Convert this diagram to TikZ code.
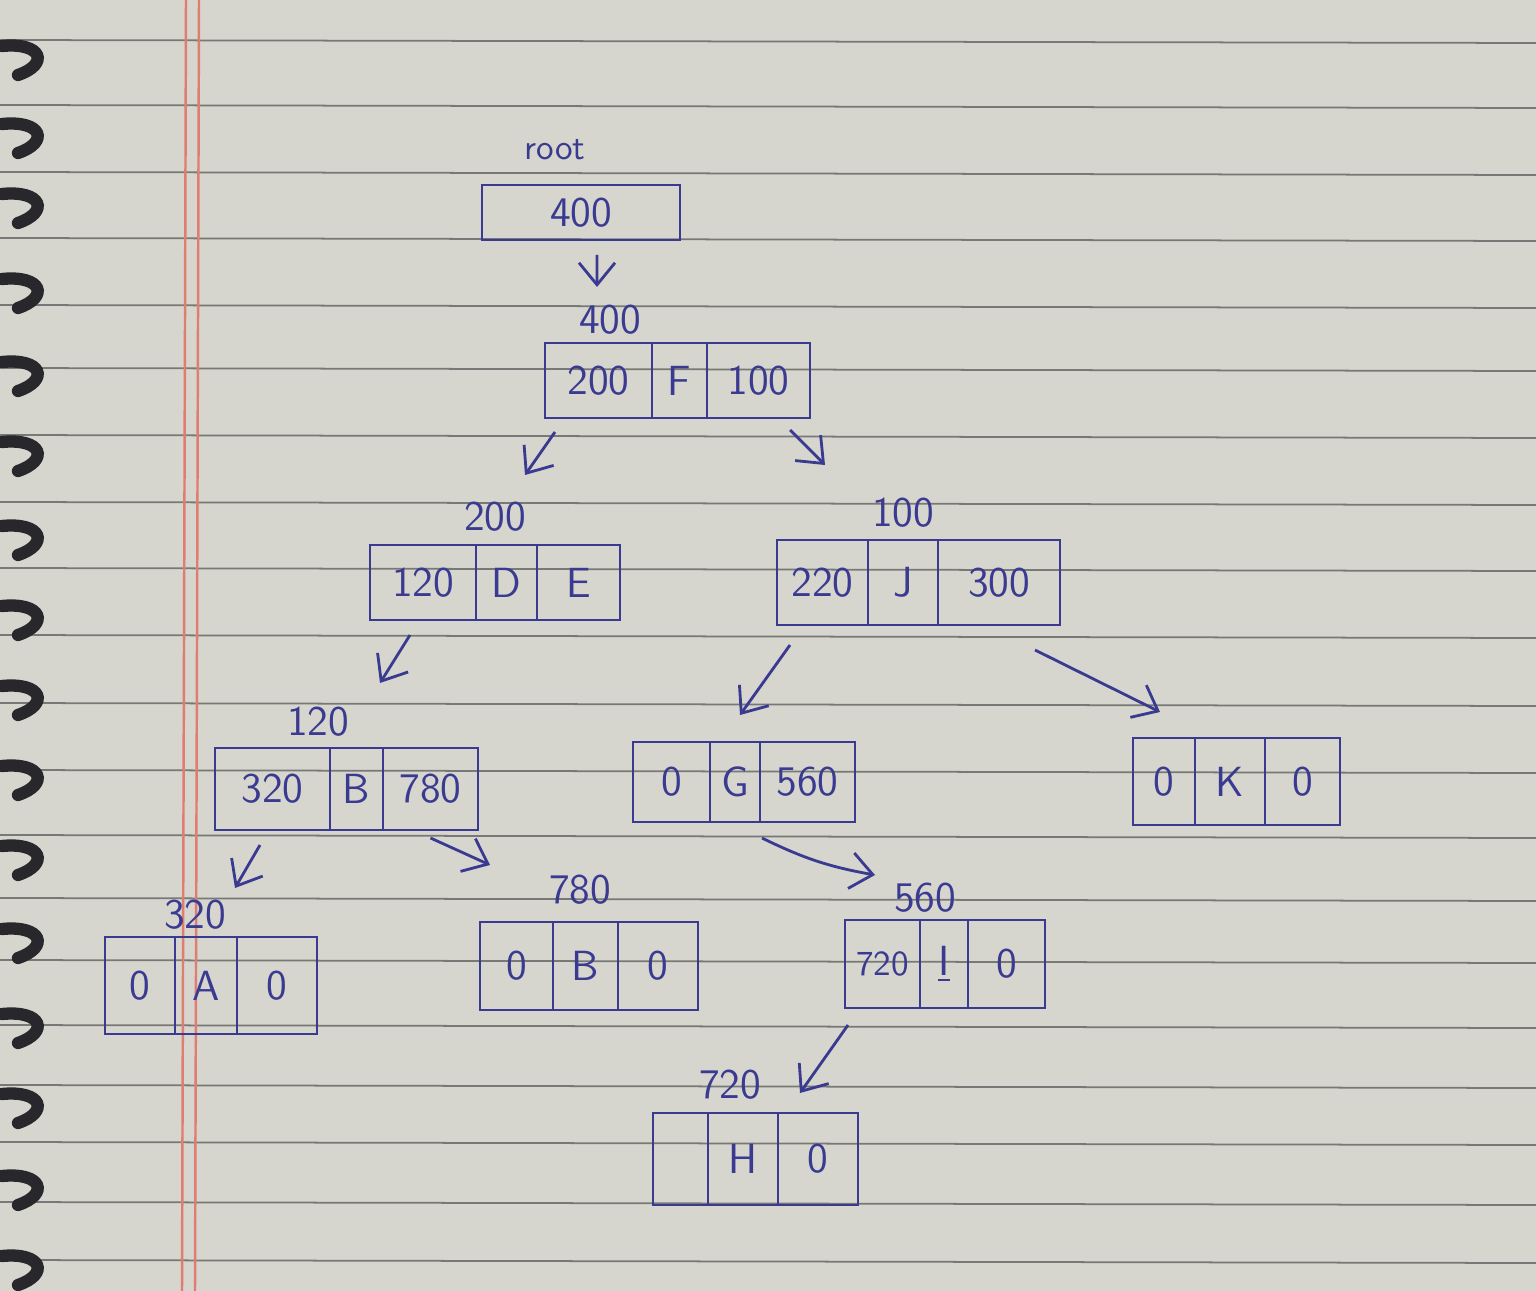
\documentclass[tikz,border=0pt]{standalone}
\usepackage{tikz}
\usetikzlibrary{arrows.meta,positioning}
\definecolor{tinta}{RGB}{58,58,145}
\definecolor{papel}{RGB}{214,214,207}
\definecolor{pauta}{RGB}{120,120,118}
\definecolor{margem}{RGB}{225,125,112}
\definecolor{espiral}{RGB}{40,40,44}

\begin{document}
\begin{tikzpicture}[x=1cm,y=-1cm,
        celula/.style={draw=tinta,thick,outer sep=0pt,inner sep=0pt,
                       text=tinta,font=\sffamily\large},
        rotulo/.style={text=tinta,font=\sffamily\large,inner sep=1pt},
        seta/.style={-{Straight Barb[length=2.2mm,width=3.6mm]},thick,tinta}]
      % folha do caderno
      \fill[papel] (0,0) rectangle (15.36,12.91);
      \useasboundingbox (0,0) rectangle (15.36,12.91);
      \foreach \y in {0.40,1.05,1.72,2.38,3.05,3.68,4.35,5.02,5.68,6.35,7.03,7.70,8.35,8.98,9.60,10.25,10.85,11.42,12.02,12.60}
        \draw[pauta,line width=0.5pt] (0,\y) -- (15.36,\y+0.03);
      \draw[margem,line width=0.7pt] (1.86,0) -- (1.82,12.91);
      \draw[margem,line width=0.7pt] (1.99,0) -- (1.95,12.91);
      \foreach \y in {0.62,1.40,2.10,2.95,3.78,4.58,5.42,6.22,7.02,7.82,8.62,9.45,10.30,11.10,11.92,12.72}
        \draw[espiral,line width=3.5pt,line cap=round] (0.02,\y-0.16) .. controls (0.42,\y-0.20) and (0.50,\y+0.02) .. (0.18,\y+0.13);

      % raiz
      \node[rotulo,font=\sffamily] (labRaiz) at (5.55,1.50) {root};
      \node[celula,minimum width=1.98cm,minimum height=0.55cm,anchor=north west] (raiz) at (4.82,1.85) {400};

      % no 400
      \node[rotulo] (lab400) at (6.10,3.20) {400};
      \node[celula,minimum width=1.07cm,minimum height=0.75cm,anchor=north west] (n400a) at (5.45,3.43) {200};
      \node[celula,minimum width=0.55cm,minimum height=0.75cm,right=0pt of n400a] (n400b) {F};
      \node[celula,minimum width=1.03cm,minimum height=0.75cm,right=0pt of n400b] (n400c) {100};

      % no 200
      \node[rotulo] (lab200) at (4.95,5.17) {200};
      \node[celula,minimum width=1.06cm,minimum height=0.75cm,anchor=north west] (n200a) at (3.70,5.45) {120};
      \node[celula,minimum width=0.61cm,minimum height=0.75cm,right=0pt of n200a] (n200b) {D};
      \node[celula,minimum width=0.83cm,minimum height=0.75cm,right=0pt of n200b] (n200c) {E};

      % no 100
      \node[rotulo] (lab100) at (9.03,5.13) {100};
      \node[celula,minimum width=0.91cm,minimum height=0.85cm,anchor=north west] (n100a) at (7.77,5.40) {220};
      \node[celula,minimum width=0.70cm,minimum height=0.85cm,right=0pt of n100a] (n100b) {J};
      \node[celula,minimum width=1.22cm,minimum height=0.85cm,right=0pt of n100b] (n100c) {300};

      % no 120
      \node[rotulo] (lab120) at (3.18,7.22) {120};
      \node[celula,minimum width=1.15cm,minimum height=0.82cm,anchor=north west] (n120a) at (2.15,7.48) {320};
      \node[celula,minimum width=0.53cm,minimum height=0.82cm,right=0pt of n120a] (n120b) {B};
      \node[celula,minimum width=0.95cm,minimum height=0.82cm,right=0pt of n120b] (n120c) {780};

      % no G
      \node[celula,minimum width=0.77cm,minimum height=0.80cm,anchor=north west] (nGa) at (6.33,7.42) {0};
      \node[celula,minimum width=0.50cm,minimum height=0.80cm,right=0pt of nGa] (nGb) {G};
      \node[celula,minimum width=0.95cm,minimum height=0.80cm,right=0pt of nGb] (nGc) {560};

      % no K
      \node[celula,minimum width=0.62cm,minimum height=0.87cm,anchor=north west] (nKa) at (11.33,7.38) {0};
      \node[celula,minimum width=0.70cm,minimum height=0.87cm,right=0pt of nKa] (nKb) {K};
      \node[celula,minimum width=0.75cm,minimum height=0.87cm,right=0pt of nKb] (nKc) {0};

      % no 320
      \node[rotulo] (lab320) at (1.95,9.15) {320};
      \node[celula,minimum width=0.70cm,minimum height=0.97cm,anchor=north west] (n320a) at (1.05,9.37) {0};
      \node[celula,minimum width=0.62cm,minimum height=0.97cm,right=0pt of n320a] (n320b) {A};
      \node[celula,minimum width=0.80cm,minimum height=0.97cm,right=0pt of n320b] (n320c) {0};

      % no 780
      \node[rotulo] (lab780) at (5.80,8.90) {780};
      \node[celula,minimum width=0.73cm,minimum height=0.88cm,anchor=north west] (n780a) at (4.80,9.22) {0};
      \node[celula,minimum width=0.65cm,minimum height=0.88cm,right=0pt of n780a] (n780b) {B};
      \node[celula,minimum width=0.80cm,minimum height=0.88cm,right=0pt of n780b] (n780c) {0};

      % no 560
      \node[rotulo] (lab560) at (9.25,8.98) {560};
      \node[celula,minimum width=0.75cm,minimum height=0.88cm,anchor=north west,font=\sffamily] (n560a) at (8.45,9.20) {720};
      \node[celula,minimum width=0.48cm,minimum height=0.88cm,right=0pt of n560a] (n560b) {\underline{I}};
      \node[celula,minimum width=0.77cm,minimum height=0.88cm,right=0pt of n560b] (n560c) {0};

      % no 720
      \node[rotulo] (lab720) at (7.30,10.85) {720};
      \node[celula,minimum width=0.55cm,minimum height=0.92cm,anchor=north west] (n720a) at (6.53,11.13) {};
      \node[celula,minimum width=0.70cm,minimum height=0.92cm,right=0pt of n720a] (n720b) {H};
      \node[celula,minimum width=0.80cm,minimum height=0.92cm,right=0pt of n720b] (n720c) {0};

      % setas
      \draw[seta] ([shift={(0.16,0.15)}]raiz.south) -- ([shift={(-0.13,-0.33)}]lab400.center);
      \draw[seta] ([shift={(-0.435,0.14)}]n400a.south) -- ([shift={(0.30,-0.42)}]lab200.center);
      \draw[seta] ([shift={(0.315,0.12)}]n400c.south) -- ([shift={(-0.78,-0.48)}]lab100.center);
      \draw[seta] ([shift={(-0.13,0.15)}]n200a.south) -- ([shift={(0.62,-0.39)}]lab120.center);
      \draw[seta] ([shift={(-0.325,0.20)}]n100a.south) -- ([shift={(0.05,-0.27)}]nGb.north);
      \draw[seta] ([shift={(0.36,0.25)}]n100c.south) -- ([shift={(-0.04,-0.26)}]nKa.north);
      \draw[seta] ([shift={(-0.125,0.15)}]n120a.south) -- ([shift={(0.40,-0.27)}]lab320.center);
      \draw[seta] ([shift={(0,0.08)}]n120c.south) -- ([shift={(-0.90,-0.25)}]lab780.center);
      \draw[seta] ([shift={(-0.455,0.16)}]nGc.south) to[bend right=8] ([shift={(-0.50,-0.23)}]lab560.center);
      \draw[seta] ([shift={(-0.345,0.17)}]n560a.south) -- ([shift={(0.70,0.08)}]lab720.center);
    \end{tikzpicture}
\end{document}
